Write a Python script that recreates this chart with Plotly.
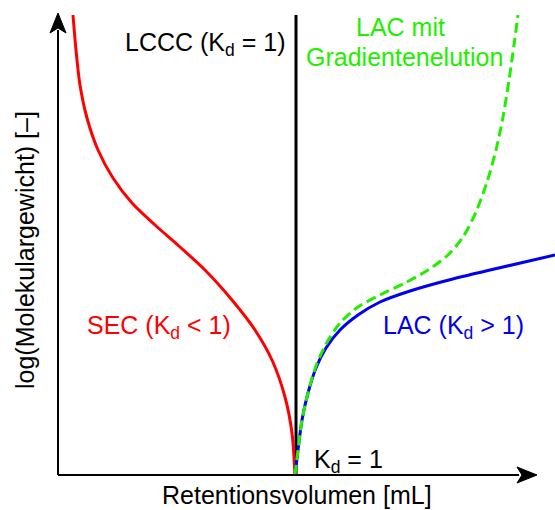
import plotly.graph_objects as go

# Data (arbitrary units: x = Retentionsvolumen, y = log(Molekulargewicht))
sec_x = [15, 18, 22, 29, 40, 55, 74, 97, 122, 147, 174, 197, 214, 227, 234, 237]
sec_y = [460, 425, 390, 357, 325, 297, 272, 250, 228, 205, 175, 145, 115, 78, 42, 0]

lac_x = [237, 240, 244, 250, 258, 268, 282, 300, 322, 352, 387, 432, 497]
lac_y = [0, 25, 55, 82, 107, 127, 145, 160, 173, 184, 194, 205, 220]

grad_x = [237, 240, 244, 250, 258, 268, 282, 300, 322, 347, 370, 390, 405, 418, 429, 438, 445, 451, 456, 460]
grad_y = [0, 25, 55, 82, 109, 131, 152, 168, 180, 192, 205, 220, 238, 263, 293, 325, 358, 395, 430, 460]

lccc_x = [238, 238]
lccc_y = [0, 460]

W, H = 555, 510
X0, Y0 = 58, 475  # pixel position of origin
xr = [-X0, W - X0]
yr = [Y0 - H, Y0]

FONT = "Liberation Sans, Arial, sans-serif"

fig = go.Figure()
fig.add_trace(go.Scatter(x=lccc_x, y=lccc_y, mode="lines",
                         line=dict(color="black", width=3), hoverinfo="skip"))
fig.add_trace(go.Scatter(x=sec_x, y=sec_y, mode="lines", line_shape="spline",
                         line=dict(color="#ff0000", width=3, smoothing=0.8), hoverinfo="skip"))
fig.add_trace(go.Scatter(x=lac_x, y=lac_y, mode="lines", line_shape="spline",
                         line=dict(color="#0000ee", width=3, smoothing=0.8), hoverinfo="skip"))
fig.add_trace(go.Scatter(x=grad_x, y=grad_y, mode="lines", line_shape="spline",
                         line=dict(color="#22ee00", width=3, dash="10px,5px", smoothing=0.8),
                         hoverinfo="skip"))

shapes = [
    # axes
    dict(type="line", xref="x", yref="y", x0=0, y0=0, x1=0, y1=Y0 - 30,
         line=dict(color="black", width=2)),
    dict(type="line", xref="x", yref="y", x0=0, y0=0, x1=537 - X0 - 18, y1=0,
         line=dict(color="black", width=2)),
    # arrowheads
    dict(type="path", xref="x", yref="y",
         path=f"M 0 {Y0-13} L -8 {Y0-33} L 0 {Y0-28} L 8 {Y0-33} Z",
         fillcolor="black", line=dict(color="black", width=1)),
    dict(type="path", xref="x", yref="y",
         path=f"M {537-X0} 0 L {517-X0} 8 L {522-X0} 0 L {517-X0} -8 Z",
         fillcolor="black", line=dict(color="black", width=1)),
]


def px(xp, yp):
    return xp / W, 1 - yp / H


annotations = []


def ann(text, xp, yp, color, size=25, angle=0):
    x, y = px(xp, yp)
    annotations.append(dict(text=text, x=x, y=y, xref="paper", yref="paper",
                            showarrow=False, xanchor="center", yanchor="middle",
                            textangle=angle,
                            font=dict(family=FONT, size=size, color=color)))


ann("LCCC (K<sub>d</sub> = 1)", 205, 44, "black")
ann("LAC mit", 401, 27, "#22ee00")
ann("Gradientenelution", 404, 57, "#22ee00")
ann("SEC (K<sub>d</sub> < 1)", 159, 327, "#ff0000")
ann("LAC (K<sub>d</sub> > 1)", 453, 327, "#0000ee")
ann("K<sub>d</sub> = 1", 348, 461, "black")
ann("Retentionsvolumen [mL]", 297, 495, "black")
ann("log(Molekulargewicht) [–]", 25, 250, "black", angle=-90)

fig.update_layout(
    width=W, height=H,
    margin=dict(l=0, r=0, t=0, b=0),
    paper_bgcolor="white", plot_bgcolor="white",
    showlegend=False,
    xaxis=dict(range=xr, visible=False, fixedrange=True),
    yaxis=dict(range=yr, visible=False, fixedrange=True),
    shapes=shapes,
    annotations=annotations,
)

fig.write_html("out.html")
